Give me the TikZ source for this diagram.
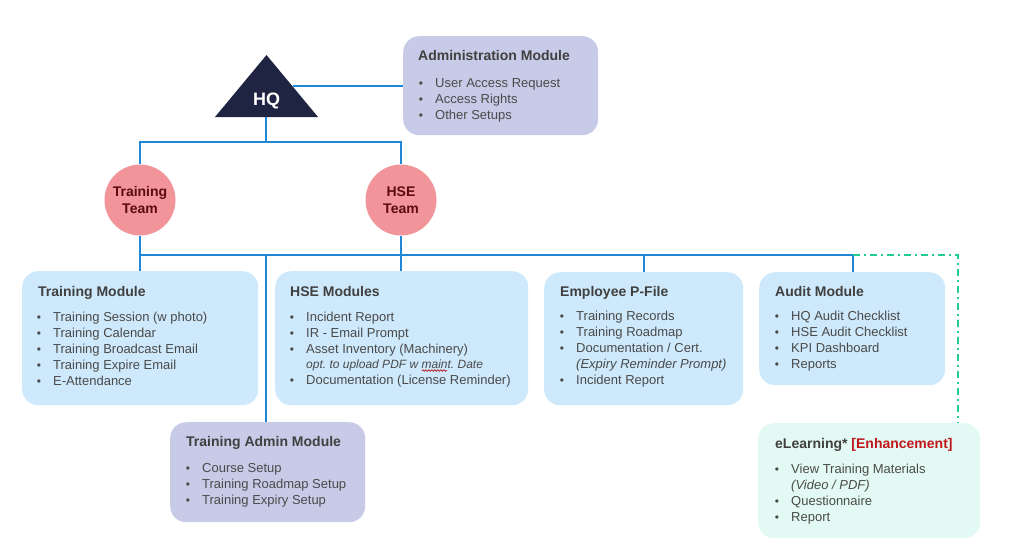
\documentclass[tikz,border=0pt]{standalone}
\usepackage{fontspec}
\setmainfont{Liberation Sans}
\usetikzlibrary{calc,decorations.pathmorphing}
\frenchspacing
\definecolor{lineblue}{HTML}{1F87D8}
\definecolor{boxblue}{HTML}{CDE9FB}
\definecolor{lavender}{HTML}{C8CBE7}
\definecolor{mint}{HTML}{E2FAF3}
\definecolor{pinkc}{HTML}{F2959A}
\definecolor{darkred}{HTML}{5C0B0E}
\definecolor{navy}{HTML}{1E2442}
\definecolor{txtgray}{HTML}{4A4A4A}
\definecolor{titlegray}{HTML}{404040}
\definecolor{enhred}{HTML}{C0171B}
\definecolor{dgreen}{HTML}{22CC8E}
\tikzset{
  conn/.style={draw=lineblue, line width=2pt},
  dashconn/.style={draw=dgreen, line width=2pt, dash pattern=on 7pt off 4pt on 2pt off 4pt},
  modbox/.style={draw=none, rounded corners=16pt, anchor=north west, inner sep=0pt},
  bluebox/.style={modbox, fill=boxblue},
  lavbox/.style={modbox, fill=lavender},
  mintbox/.style={modbox, fill=mint},
  team/.style={circle, fill=pinkc, minimum size=71pt, inner sep=0pt, align=center,
    font=\fontsize{14}{16.5}\selectfont\bfseries, text=darkred},
  ttl/.style={anchor=base west, inner sep=0pt, font=\fontsize{14}{16}\selectfont\bfseries, text=titlegray},
  itm/.style={anchor=base west, inner sep=0pt, font=\fontsize{13}{15}\selectfont, text=txtgray},
  itl/.style={anchor=base west, inner sep=0pt, font=\fontsize{12}{14}\selectfont\itshape, text=txtgray},
  itlb/.style={itl, font=\fontsize{13}{15}\selectfont\itshape},
  bul/.style={anchor=base, inner sep=0pt, font=\fontsize{12}{13}\selectfont, text=txtgray},
}
\newcommand\bitem[3]{\node[bul] at ({#1+2},{#2+4.5}) {\textbullet}; \node[itm] at ({#1+16},{#2+4.5}) {#3};}
\newcommand\ititem[3]{\node[itl] at (#1,{#2+4.3}) {#3};}
\newcommand\itbitem[3]{\node[itlb] at (#1,{#2+4.5}) {#3};}
\newcommand\ttitem[3]{\node[ttl] at (#1,{#2+5}) {#3};}
\begin{document}
\begin{tikzpicture}[x=1pt,y=-1pt]
\useasboundingbox (0,0) rectangle (1024,558);
% boxes
\node[lavbox, minimum width=195pt, minimum height=99pt] (adm) at (403,36) {};
\node[bluebox, minimum width=236pt, minimum height=134pt] (tm) at (22,271) {};
\node[bluebox, minimum width=253pt, minimum height=134pt] (hm) at (275,271) {};
\node[bluebox, minimum width=199pt, minimum height=133pt] (ep) at (544,272) {};
\node[bluebox, minimum width=186pt, minimum height=113pt] (au) at (759,272) {};
\node[lavbox, minimum width=195pt, minimum height=100pt] (tam) at (170,422) {};
\node[mintbox, minimum width=222pt, minimum height=115pt] (el) at (758,423) {};
% HQ
\fill[navy] (215,117) -- (318,117) -- (266.5,55) -- cycle;
\node[text=white, font=\fontsize{18}{20}\selectfont\bfseries, inner sep=0pt, anchor=base] (hq) at (266.5,105) {HQ};
\coordinate (hqB) at (266,117);
\coordinate (hqR) at (293,86);
% teams
\node[team] (tt) at (140,200) {Training\\Team};
\node[team] (ht) at (401,200) {HSE\\Team};
\coordinate (bus) at (0,255);
\coordinate (elc) at (958,423);
% connectors
\draw[conn] (hqR) -- (adm.west |- hqR);
\draw[conn] (hqB) -- (hqB |- 0,142);
\draw[conn] (tt.north) -- (tt.north |- 0,142) -| (ht.north);
\draw[conn] (tt.south) -- (tt.south |- tm.north);
\draw[conn] (ht.south) -- (ht.south |- hm.north);
\draw[conn] (tt.south |- bus) -- (853,255) coordinate (busE);
\draw[conn] (266,255) coordinate (tamT) -- (tamT |- tam.north);
\draw[conn] (644,255) coordinate (epT) -- (epT |- ep.north);
\draw[conn] (busE) -- (busE |- au.north);
\draw[dashconn] (busE) -| (elc);
% Administration
\ttitem{418}{55}{Administration Module}
\bitem{419}{83}{User Access Request}
\bitem{419}{99}{Access Rights}
\bitem{419}{115}{Other Setups}
% Training Module
\ttitem{38}{291}{Training Module}
\bitem{37}{317}{Training Session (w photo)}
\bitem{37}{333}{Training Calendar}
\bitem{37}{349}{Training Broadcast Email}
\bitem{37}{365}{Training Expire Email}
\bitem{37}{381}{E-Attendance}
% HSE
\ttitem{290}{291}{HSE Modules}
\bitem{290}{317}{Incident Report}
\bitem{290}{333}{IR - Email Prompt}
\bitem{290}{349}{Asset Inventory (Machinery)}
\ititem{306}{364}{opt. to upload PDF w maint. Date}
\draw[enhred, line width=0.7pt, decorate, decoration={snake, amplitude=0.8pt, segment length=3pt}] (422,370.5) -- (447,370.5);
\bitem{290}{380}{Documentation (License Reminder)}
% Employee
\ttitem{560}{291}{Employee P-File}
\bitem{560}{316}{Training Records}
\bitem{560}{332}{Training Roadmap}
\bitem{560}{348}{Documentation / Cert.}
\itbitem{576}{364}{(Expiry Reminder Prompt)}
\bitem{560}{380}{Incident Report}
% Audit
\ttitem{775}{291}{Audit Module}
\bitem{775}{316}{HQ Audit Checklist}
\bitem{775}{332}{HSE Audit Checklist}
\bitem{775}{348}{KPI Dashboard}
\bitem{775}{364}{Reports}
% Training Admin
\ttitem{186}{441}{Training Admin Module}
\bitem{186}{468}{Course Setup}
\bitem{186}{484}{Training Roadmap Setup}
\bitem{186}{500}{Training Expiry Setup}
% eLearning
\ttitem{775}{443}{eLearning* \textcolor{enhred}{[Enhancement]}}
\bitem{775}{469}{View Training Materials}
\itbitem{791}{485}{(Video / PDF)}
\bitem{775}{501}{Questionnaire}
\bitem{775}{517}{Report}
\end{tikzpicture}
\end{document}
